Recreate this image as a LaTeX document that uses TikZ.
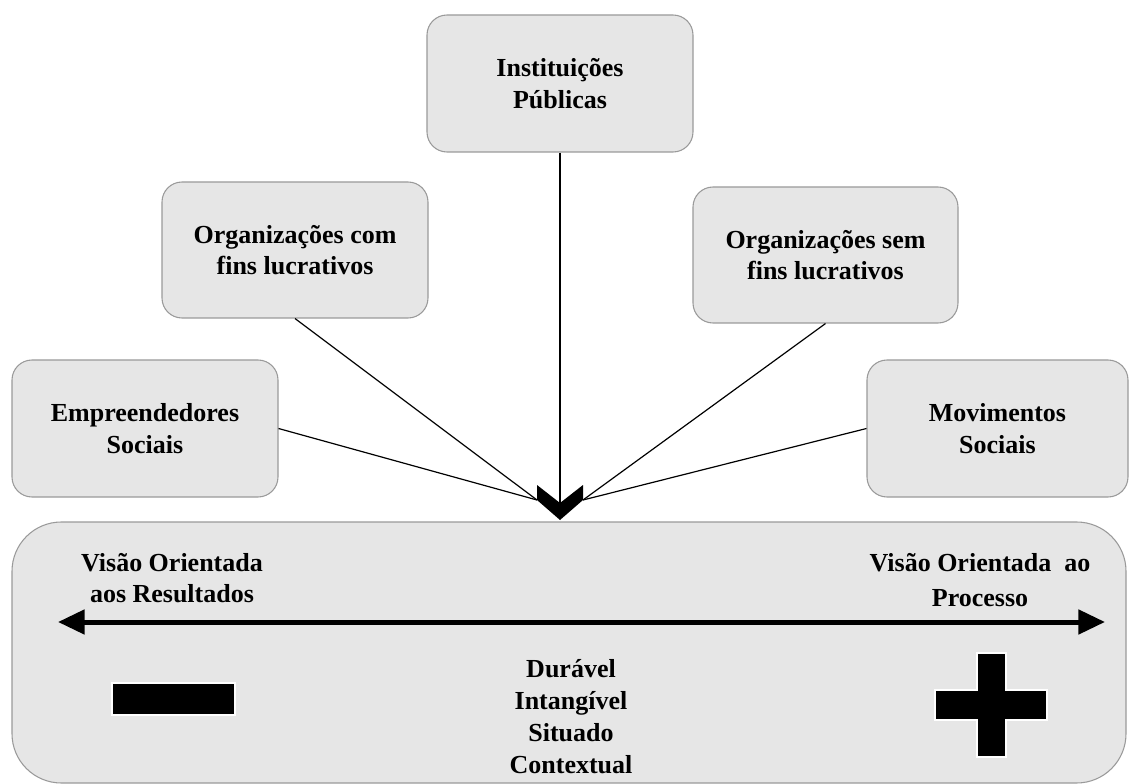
\documentclass[tikz,border=0pt]{standalone}
\usepackage{fontspec}
\setmainfont{Liberation Serif}
\usetikzlibrary{arrows.meta}
\definecolor{boxfill}{HTML}{E6E6E6}
\definecolor{boxline}{HTML}{9A9A9A}
\tikzset{
  actor/.style={draw=boxline, line width=0.8pt, fill=boxfill, rounded corners=15pt,
    align=center, inner sep=0pt, font=\bfseries\fontsize{19.5}{23.5}\selectfont},
  label/.style={align=center, inner sep=0pt, font=\bfseries\fontsize{19.5}{23.5}\selectfont},
  link/.style={draw=black, line width=0.9pt},
  sign/.style={fill=black, draw=white, line width=1pt}
}
\begin{document}
\begin{tikzpicture}[x=0.75pt, y=-0.75pt]
\useasboundingbox (0,0) rectangle (1129,784);

% the five actors
\node[actor, minimum width=199.5pt, minimum height=102.75pt] (inst) at (560,83.5) {Instituições\\Públicas};
\node[actor, minimum width=199.5pt, minimum height=102pt] (orgcom) at (295,250) {Organizações com\\fins lucrativos};
\node[actor, minimum width=198.75pt, minimum height=102pt] (orgsem) at (825.5,255) {Organizações sem\\fins lucrativos};
\node[actor, minimum width=199.5pt, minimum height=102.75pt] (emp) at (145,428.5) {Empreendedores\\Sociais};
\node[actor, minimum width=195.75pt, minimum height=102.75pt] (mov) at (997.5,428.5) {Movimentos\\Sociais};

% the lower panel
\node[actor, rounded corners=37pt, minimum width=835.5pt, minimum height=195.75pt] (panel) at (569,652.5) {};

% converging arrow head
\coordinate (chl) at (537,500);
\coordinate (chr) at (583,500);
\coordinate (chn) at (560,503);
\fill[black] (537,485) -- (560,503) -- (583,485) -- (583,500) -- (560,520) -- (537,500) -- cycle;

% connectors from the actors to the head
\draw[link] (inst.south) -- (chn);
\draw[link] (orgcom.south) -- (chl);
\draw[link] (emp.east) -- (chl);
\draw[link] (orgsem.south) -- (chr);
\draw[link] (mov.west) -- (chr);

% axis between the two views
\coordinate (resL) at (58,622);
\coordinate (resR) at (1105,622);
\draw[line width=3.75pt, {Triangle[length=20pt,width=18pt]}-{Triangle[length=20pt,width=18pt]}] (resL) -- (resR);

\node[label] (left) at (172,578) {Visão Orientada\\aos Resultados};
\node[label, font=\bfseries\fontsize{19.5}{26}\selectfont] (right) at (980,580) {Visão Orientada\ \ ao\\Processo};
\node[label, font=\bfseries\fontsize{19.5}{24}\selectfont] (mid) at (571,717) {Durável\\Intangível\\Situado\\Contextual};

% minus and plus signs
\draw[sign] (112,683) rectangle (235,715);
\draw[sign] (977,653) -- (1006,653) -- (1006,690) -- (1047,690) -- (1047,720) -- (1006,720)
  -- (1006,757) -- (977,757) -- (977,720) -- (935,720) -- (935,690) -- (977,690) -- cycle;
\end{tikzpicture}
\end{document}
